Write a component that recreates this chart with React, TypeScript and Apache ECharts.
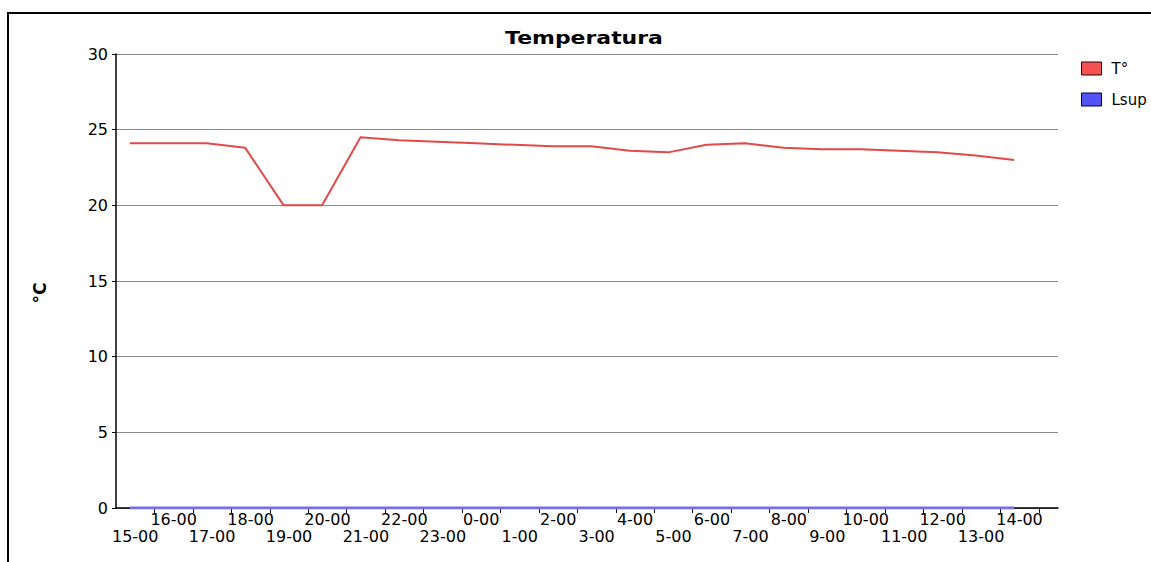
import React, { useEffect, useRef } from "react";
import * as echarts from "echarts";

const categories = [
  "15-00", "16-00", "17-00", "18-00", "19-00", "20-00", "21-00", "22-00",
  "23-00", "0-00", "1-00", "2-00", "3-00", "4-00", "5-00", "6-00",
  "7-00", "8-00", "9-00", "10-00", "11-00", "12-00", "13-00", "14-00",
];

const tempValues = [
  24.1, 24.1, 24.1, 23.8, 20.0, 20.0, 24.5, 24.3,
  24.2, 24.1, 24.0, 23.9, 23.9, 23.6, 23.5, 24.0,
  24.1, 23.8, 23.7, 23.7, 23.6, 23.5, 23.3, 23.0,
];

const lsupValues = [
  0, 0, 0, 0, 0, 0, 0, 0,
  0, 0, 0, 0, 0, 0, 0, 0,
  0, 0, 0, 0, 0, 0, 0, 0,
];

const seriesNames = ["T°", "Lsup"];
const titleText = "Temperatura";
const yAxisName = "°C";
const yMin = 0;
const yMax = 30;
const yInterval = 5;

const FONT = "DejaVu Sans";
const POINT_OFFSET = 0.36;

export default function App() {
  const ref = useRef<HTMLDivElement>(null);

  useEffect(() => {
    if (!ref.current) return;
    const chart = echarts.init(ref.current, null, { renderer: "svg" });

    const toPoints = (vals: number[]) =>
      vals.map((v, i) => [i + POINT_OFFSET, v]);

    const option: any = {
      animation: false,
      backgroundColor: "#ffffff",
      grid: { left: 116, top: 54, width: 942, height: 454, containLabel: false },
      graphic: [
        {
          type: "rect",
          shape: { x: 8, y: 13, width: 1400, height: 800 },
          style: { fill: "none", stroke: "#000", lineWidth: 2 },
          silent: true,
        },
        {
          type: "text",
          x: 584,
          y: 38,
          scaleX: 1.22,
          style: {
            text: titleText,
            font: `bold 18px "${FONT}"`,
            fill: "#000",
            textAlign: "center",
            textVerticalAlign: "middle",
          },
        },
        {
          type: "text",
          x: 40,
          y: 293,
          rotation: Math.PI / 2,
          style: {
            text: yAxisName,
            font: `bold 17px "${FONT}"`,
            fill: "#000",
            textAlign: "center",
            textVerticalAlign: "middle",
          },
        },
      ],
      legend: {
        orient: "vertical",
        left: 1076,
        top: 56,
        itemWidth: 20,
        itemHeight: 13,
        itemGap: 16,
        icon: "rect",
        textStyle: {
          fontFamily: FONT,
          fontSize: 15,
          color: "#000",
          lineHeight: 13,
          padding: [0, 0, 0, 5],
        },
        data: [
          {
            name: seriesNames[0],
            itemStyle: { color: "#f25252", borderColor: "#300", borderWidth: 1 },
          },
          {
            name: seriesNames[1],
            itemStyle: { color: "#5252f5", borderColor: "#003", borderWidth: 1 },
          },
        ],
      },
      xAxis: {
        type: "value",
        min: 0,
        max: categories.length + 0.5,
        axisLine: { show: true, lineStyle: { color: "#000", width: 1.5 } },
        axisTick: {
          show: true,
          length: 5,
          customValues: categories.map((_, i) => i + 1),
          lineStyle: { color: "#111", width: 1 },
        },
        axisLabel: {
          customValues: categories.map((_, i) => i + 0.5),
          margin: 3,
          formatter: (value: number) => {
            const i = Math.round(value - 0.5);
            const c = categories[i] ?? "";
            return i % 2 === 0 ? `{lo|${c}}` : `{hi|${c}}`;
          },
          rich: {
            hi: { fontFamily: FONT, fontSize: 16, color: "#000" },
            lo: { fontFamily: FONT, fontSize: 16, color: "#000", padding: [17, 0, 0, 0] },
          },
        },
        splitLine: { show: false },
      },
      yAxis: {
        type: "value",
        min: yMin,
        max: yMax,
        interval: yInterval,
        axisLine: { show: true, lineStyle: { color: "#000", width: 1.5 } },
        axisTick: { show: true, length: 4, lineStyle: { color: "#000" } },
        axisLabel: {
          fontFamily: FONT,
          fontSize: 16,
          color: "#000",
          margin: 8,
        },
        splitLine: { show: true, lineStyle: { color: "#8a8a8a", width: 1 } },
      },
      series: [
        {
          name: seriesNames[0],
          type: "line",
          data: toPoints(tempValues),
          showSymbol: false,
          symbol: "none",
          lineStyle: { color: "#e24a4a", width: 2 },
          itemStyle: { color: "#f25252" },
          z: 3,
        },
        {
          name: seriesNames[1],
          type: "line",
          data: toPoints(lsupValues),
          showSymbol: false,
          symbol: "none",
          lineStyle: { color: "#7070e6", width: 3 },
          itemStyle: { color: "#5252f5" },
          z: 4,
        },
      ],
    };

    chart.setOption(option);
    return () => chart.dispose();
  }, []);

  return (
    <div
      ref={ref}
      style={{
        position: "absolute",
        left: 0,
        top: 0,
        width: 1151,
        height: 562,
        background: "#fff",
      }}
    />
  );
}
